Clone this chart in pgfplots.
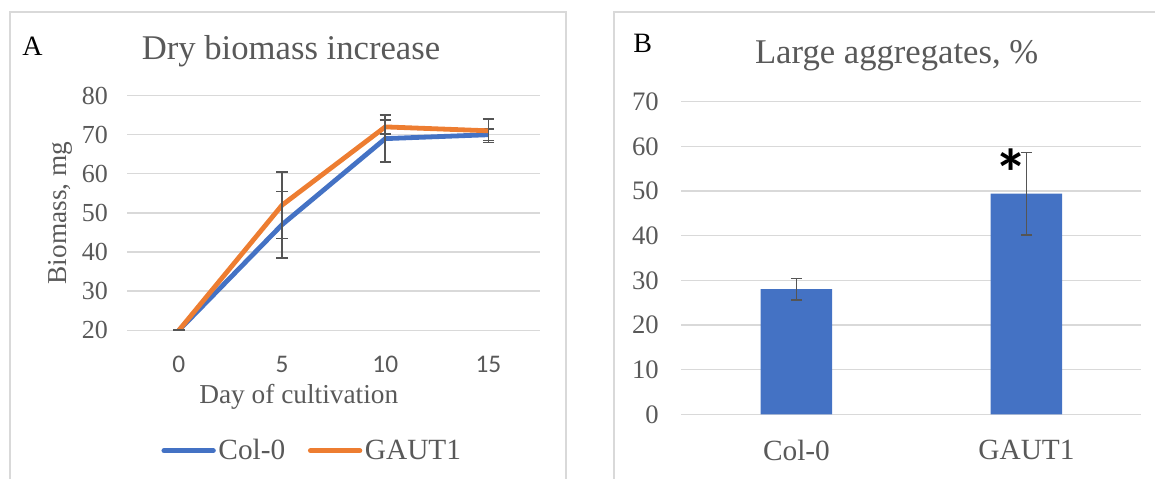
\documentclass[border=0pt]{standalone}
\usepackage{fontspec}
\setmainfont{Liberation Serif}
\newfontfamily\calibri{Carlito}
\usepackage{pgfplots}
\pgfplotsset{compat=1.18}
\definecolor{xblue}{HTML}{4472C4}
\definecolor{xorange}{HTML}{ED7D31}
\definecolor{xgrid}{HTML}{D9D9D9}
\definecolor{xtext}{HTML}{595959}
\definecolor{xerr}{HTML}{555555}
\begin{document}
\begin{tikzpicture}
\path[use as bounding box] (0,0) rectangle (866.25pt,358.5pt);
\clip (0,0) rectangle (866.25pt,358.5pt);
\draw[xgrid, line width=0.9pt] (7.5pt,-5pt) rectangle (424.5pt,349.5pt);
\draw[xgrid, line width=0.9pt] (460.5pt,-5pt) rectangle (880pt,349.5pt);

\begin{axis}[
  at={(95.5pt,110.8pt)}, anchor=south west, scale only axis,
  width=309.5pt, height=176pt,
  xmin=-2.5, xmax=17.5, ymin=20, ymax=80,
  xtick={0,5,10,15}, ytick={20,30,...,80},
  ymajorgrids, grid style={xgrid, line width=1pt},
  axis line style={draw=none}, major tick length=0pt,
  /pgf/number format/assume math mode=true,
  yticklabel style={font=\fontsize{19.5}{22}\selectfont, text=xtext, xshift=-11pt},
  xticklabel style={font=\calibri\fontsize{19}{22}\selectfont, text=xtext, yshift=-16pt},
  xlabel={Day of cultivation}, ylabel={Biomass, mg},
  xlabel style={font=\fontsize{20.5}{24}\selectfont, text=xtext, at={(axis description cs:0.4155,-0.311)}, anchor=base},
  ylabel style={font=\fontsize{20.5}{24}\selectfont, text=xtext, at={(axis description cs:-0.1632,0.4997)}, anchor=center},
  legend style={at={(axis description cs:0.449,-0.513)}, anchor=center, draw=none, fill=none,
    legend columns=2, font=\fontsize{22}{25}\selectfont, text=xtext,
    /tikz/every even column/.append style={column sep=15pt}},
  legend image code/.code={\draw[#1, line width=3.75pt, line cap=round] (0pt,0pt) -- (37pt,0pt);},
]
\addplot[xblue, line width=3.6pt, line join=round,
  error bars/.cd, y dir=both, y explicit,
  error bar style={xerr, line width=1.2pt, line join=miter},
  error mark options={xerr, rotate=90, mark size=4.25pt, line width=1.2pt}]
  coordinates {(0,20) +- (0,0) (5,47) +- (0,8.5) (10,69) +- (0,6) (15,70) +- (0,1.5)};
\addlegendentry{Col-0}
\addplot[xorange, line width=3.6pt, line join=round,
  error bars/.cd, y dir=both, y explicit,
  error bar style={xerr, line width=1.2pt, line join=miter},
  error mark options={xerr, rotate=90, mark size=4.25pt, line width=1.2pt}]
  coordinates {(0,20) +- (0,0) (5,52) +- (0,8.5) (10,72) +- (0,1.8) (15,71) +- (0,3)};
\addlegendentry{GAUT1}
\end{axis}

\begin{axis}[
  at={(511.1pt,47.8pt)}, anchor=south west, scale only axis,
  width=345pt, height=234.5pt,
  xmin=-0.5, xmax=1.5, ymin=0, ymax=70,
  xtick={0,1}, xticklabels={Col-0,GAUT1}, ytick={0,10,...,70},
  ymajorgrids, grid style={xgrid, line width=1pt},
  axis line style={draw=none}, major tick length=0pt,
  /pgf/number format/assume math mode=true,
  yticklabel style={font=\fontsize{20}{23}\selectfont, text=xtext, xshift=-13.5pt},
  xticklabel style={font=\fontsize{22}{25}\selectfont, text=xtext, yshift=-16pt},
  ybar, bar width=53.6pt,
]
\addplot[fill=xblue, draw=none,
  error bars/.cd, y dir=both, y explicit,
  error bar style={xerr, line width=1.2pt},
  error mark options={xerr, rotate=90, mark size=4.25pt, line width=1.2pt}]
  coordinates {(0,28.0) +- (0,2.4) (1,49.37) +- (0,9.2)};
\node[font=\calibri\bfseries\fontsize{50}{50}\selectfont, inner sep=0pt, anchor=center] at (axis cs:0.932,54.2) {*};
\end{axis}

\node[anchor=base, inner sep=0pt, font=\fontsize{26}{30}\selectfont, text=xtext] at (218.25pt,313.5pt) {Dry biomass increase};
\node[anchor=base west, inner sep=0pt, font=\fontsize{21}{24}\selectfont] at (16.5pt,316.5pt) {A};
\node[anchor=base, inner sep=0pt, font=\fontsize{26}{30}\selectfont, text=xtext] at (672.5pt,310.5pt) {Large aggregates, \%};
\node[anchor=base west, inner sep=0pt, font=\fontsize{21}{24}\selectfont] at (474.75pt,318.75pt) {B};
\end{tikzpicture}
\end{document}
